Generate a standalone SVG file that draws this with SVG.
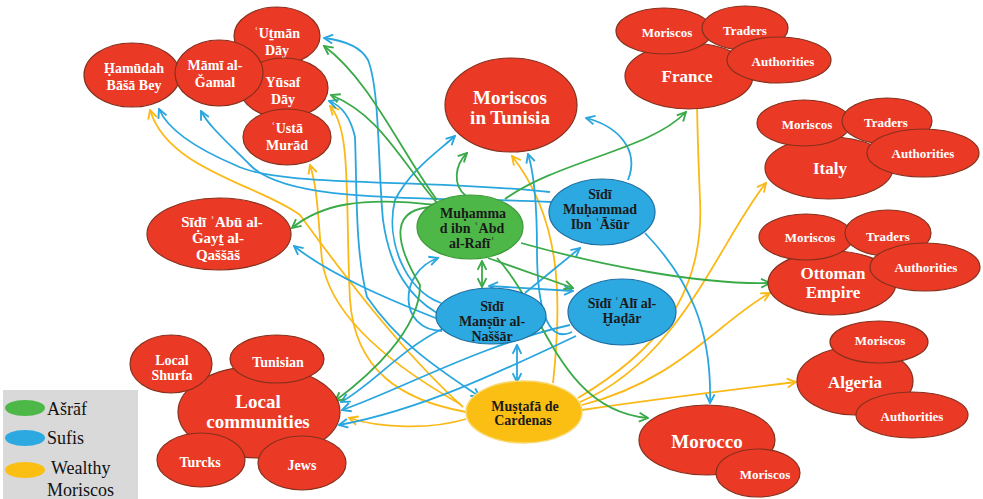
<svg xmlns="http://www.w3.org/2000/svg" width="983" height="499" viewBox="0 0 983 499">
<defs>
<marker id="ag" viewBox="0 0 10 10" refX="9" refY="5" markerWidth="11" markerHeight="11" markerUnits="userSpaceOnUse" orient="auto-start-reverse"><path d="M1,1 L9,5 L1,9" fill="none" stroke="#3AAA48" stroke-width="1.7"/></marker>
<marker id="ab" viewBox="0 0 10 10" refX="9" refY="5" markerWidth="11" markerHeight="11" markerUnits="userSpaceOnUse" orient="auto-start-reverse"><path d="M1,1 L9,5 L1,9" fill="none" stroke="#2AA6DF" stroke-width="1.7"/></marker>
<marker id="ay" viewBox="0 0 10 10" refX="9" refY="5" markerWidth="11" markerHeight="11" markerUnits="userSpaceOnUse" orient="auto-start-reverse"><path d="M1,1 L9,5 L1,9" fill="none" stroke="#FBB917" stroke-width="1.7"/></marker>
</defs>
<style>
.red{fill:#EA3A25;stroke:#86301E;stroke-width:1.2}
.blue{fill:#2DA9E1;stroke:#1F6FA3;stroke-width:1.2}
.green{fill:#4DB748;stroke:#3D9A3A;stroke-width:1.2}
.yel{fill:#FBBF14;stroke:#F8D870;stroke-width:1.5}
text{font-family:"Liberation Serif","Times New Roman",serif;font-weight:bold;text-anchor:middle}
.w{fill:#FFFFFF}
.d{fill:#1A1A1A}
.s13{font-size:13px}
.s14{font-size:14px}
.s15{font-size:15px}
.s17{font-size:17px}
.s19{font-size:19px}
.g{fill:none;stroke:#3AAA48;stroke-width:1.8;marker-end:url(#ag)}
.b{fill:none;stroke:#2AA6DF;stroke-width:1.8;marker-end:url(#ab)}
.y{fill:none;stroke:#FBB917;stroke-width:1.8;marker-end:url(#ay)}
.both{marker-start:url(#ag)}
.bothb{marker-start:url(#ab)}
text.leg{font-family:"Liberation Serif","Times New Roman",serif;font-weight:normal;font-size:18px;fill:#111;text-anchor:start}
</style>
<rect x="0" y="0" width="983" height="499" fill="#FFFFFF"/>

<g id="connectors">
<!-- yellow -->
<path class="y" d="M463,407 C 400,350 340,270 300,215 C 260,185 168,170 150,110"/>
<path class="y" d="M460,404 C 400,370 330,320 322,260 C 318,220 318,190 310,165"/>
<path class="y" d="M466,412 C 400,400 355,370 350,300 C 345,200 352,130 330,106"/>
<path class="y" d="M553,383 C 562,300 562,220 512,156"/>
<path class="y" d="M466,419 C 430,430 380,428 349,418"/>
<path class="y" d="M578,398 C 650,355 705,300 700,200 C 698,150 697,120 697,95"/>
<path class="y" d="M580,402 C 680,360 720,240 766,183"/>
<path class="y" d="M582,405 C 680,380 720,320 770,293"/>
<path class="y" d="M582,410 C 650,400 730,390 796,382"/>
<!-- blue -->
<path class="b" d="M437,313 C 410,297 390,270 383,220 C 378,170 380,90 368,60 C 360,45 340,40 324,38"/>
<path class="b bothb" d="M480,397 C 440,370 400,345 367,297 C 355,250 357,190 355,137 C 350,115 340,105 329,101"/>
<path class="b" d="M550,192 C 420,178 280,188 235,165 C 195,148 168,130 159,109"/>
<path class="b" d="M552,202 C 430,196 290,205 250,165 C 225,140 208,125 201,111"/>
<path class="b" d="M438,319 C 390,300 330,275 294,246"/>
<path class="b" d="M441,303 C 405,290 385,240 395,200 C 410,170 440,150 455,136"/>
<path class="b" d="M572,332 C 545,345 537,300 537,250 C 537,195 533,170 528,154"/>
<path class="b" d="M628,180 C 640,150 618,126 586,118"/>
<path class="b" d="M645,233 C 690,280 712,330 710,403"/>
<path class="b" d="M525,293 L 580,248"/>
<path class="b bothb" d="M489,286 L 573,291"/>
<path class="b bothb" d="M517,345 L 517,382"/>
<path class="b" d="M442,331 C 398,330 398,272 438,258"/>
<path class="b" d="M442,329 C 400,350 372,385 341,402"/>
<path class="b" d="M570,325 C 480,345 400,390 342,410"/>
<path class="b" d="M576,336 C 500,372 420,410 339,425"/>
<!-- green -->
<path class="g" d="M437,200 C 400,150 370,80 324,46"/>
<path class="g" d="M437,203 C 400,160 380,115 331,95"/>
<path class="g" d="M436,205 C 360,196 320,205 292,228"/>
<path class="g" d="M436,207 C 390,207 393,240 420,285 C 420,330 370,375 335,401"/>
<path class="g" d="M466,196 C 452,185 455,165 467,153"/>
<path class="g" d="M505,199 C 560,160 650,150 686,112"/>
<path class="g" d="M521,243 C 600,265 700,285 770,283"/>
<path class="g" d="M488,258 L 573,288"/>
<path class="g" d="M497,258 C 545,310 560,410 648,418"/>
<path class="g both" d="M482,261 L 482,287"/>
</g>

<g id="n-uthman"><ellipse class="red" cx="277" cy="36" rx="43" ry="29"/><text class="w s14" x="277" y="38">ʿUṯmān</text><text class="w s14" x="277" y="55">Dāy</text></g>
<g id="n-yusaf"><ellipse class="red" cx="284" cy="88" rx="44" ry="30"/><text class="w s14" x="283" y="87">Yūsaf</text><text class="w s14" x="283" y="104">Dāy</text></g>
<g id="n-hamudah"><ellipse class="red" cx="132" cy="75" rx="48" ry="32"/><text class="w s14" x="134" y="73">Ḥamūdah</text><text class="w s14" x="134" y="90">Bāšā Bey</text></g>
<g id="n-mami"><ellipse class="red" cx="219" cy="73" rx="44" ry="33"/><text class="w s14" x="215" y="70">Māmī al-</text><text class="w s14" x="215" y="87">Ǧamal</text></g>
<g id="n-usta"><ellipse class="red" cx="287" cy="137" rx="44" ry="28"/><text class="w s14" x="287" y="133">ʿUstā</text><text class="w s14" x="287" y="150">Murād</text></g>

<g id="n-tunisia"><ellipse class="red" cx="511" cy="105" rx="66" ry="47"/><text class="w s19" x="510" y="104">Moriscos</text><text class="w s19" x="510" y="124">in Tunisia</text></g>

<g id="n-france"><ellipse class="red" cx="689" cy="76" rx="64" ry="33"/><text class="w s17" x="687" y="82">France</text>
<ellipse class="red" cx="664" cy="31" rx="48" ry="23"/><text class="w s13" x="667" y="37">Moriscos</text>
<ellipse class="red" cx="745" cy="28" rx="43" ry="22"/><text class="w s13" x="745" y="35">Traders</text>
<ellipse class="red" cx="779" cy="60" rx="52" ry="23"/><text class="w s13" x="783" y="66">Authorities</text></g>

<g id="n-italy"><ellipse class="red" cx="829" cy="168" rx="64" ry="31"/><text class="w s17" x="830" y="174">Italy</text>
<ellipse class="red" cx="804" cy="123" rx="47" ry="23"/><text class="w s13" x="807" y="129">Moriscos</text>
<ellipse class="red" cx="887" cy="121" rx="45" ry="23"/><text class="w s13" x="886" y="127">Traders</text>
<ellipse class="red" cx="923" cy="153" rx="56" ry="24"/><text class="w s13" x="923" y="158">Authorities</text></g>

<g id="n-ottoman"><ellipse class="red" cx="832" cy="283" rx="64" ry="32"/><text class="w s17" x="833" y="279">Ottoman</text><text class="w s17" x="833" y="298">Empire</text>
<ellipse class="red" cx="806" cy="237" rx="47" ry="23"/><text class="w s13" x="810" y="242">Moriscos</text>
<ellipse class="red" cx="888" cy="233" rx="43" ry="23"/><text class="w s13" x="888" y="241">Traders</text>
<ellipse class="red" cx="925" cy="267" rx="55" ry="24"/><text class="w s13" x="926" y="272">Authorities</text></g>

<g id="n-algeria"><ellipse class="red" cx="855" cy="381" rx="58" ry="34"/><text class="w s17" x="855" y="388">Algeria</text>
<ellipse class="red" cx="879" cy="342" rx="49" ry="21"/><text class="w s13" x="880" y="345">Moriscos</text>
<ellipse class="red" cx="912" cy="415" rx="56" ry="23"/><text class="w s13" x="912" y="421">Authorities</text></g>

<g id="n-morocco"><ellipse class="red" cx="707" cy="440" rx="68" ry="35"/><text class="w s19" x="707" y="448">Morocco</text>
<ellipse class="red" cx="758" cy="473" rx="42" ry="24"/><text class="w s13" x="765" y="479">Moriscos</text></g>

<g id="n-local"><ellipse class="red" cx="259" cy="412" rx="81" ry="46"/><text class="w s19" x="258" y="408">Local</text><text class="w s19" x="258" y="428">communities</text>
<ellipse class="red" cx="171" cy="364" rx="41" ry="29"/><text class="w s14" x="172" y="365">Local</text><text class="w s14" x="172" y="380">Shurfa</text>
<ellipse class="red" cx="277" cy="359" rx="47" ry="24"/><text class="w s14" x="278" y="367">Tunisian</text>
<ellipse class="red" cx="201" cy="460" rx="44" ry="27"/><text class="w s14" x="200" y="467">Turcks</text>
<ellipse class="red" cx="302" cy="463" rx="44" ry="27"/><text class="w s14" x="302" y="470">Jews</text></g>

<g id="n-gayt"><ellipse class="red" cx="219" cy="234" rx="72" ry="36"/><text class="w s15" x="222" y="227">Sīdī ʾAbū al-</text><text class="w s15" x="218" y="243">Ġayṯ al-</text><text class="w s15" x="218" y="260">Qaššāš</text></g>

<g id="n-rafi"><ellipse class="green" cx="470" cy="227" rx="53" ry="32"/><text class="d s14" x="473" y="218">Muḥamma</text><text class="d s14" x="472" y="233">d ibn ʿAbd</text><text class="d s14" x="472" y="248">al-Rafīʿ</text></g>
<g id="n-asur"><ellipse class="blue" cx="602" cy="212" rx="53" ry="33"/><text class="d s14" x="600" y="199">Sīdī</text><text class="d s14" x="600" y="214">Muḥammad</text><text class="d s14" x="600" y="229">Ibn ʿĀšūr</text></g>
<g id="n-mansur"><ellipse class="blue" cx="491" cy="316" rx="55" ry="28"/><text class="d s14" x="492" y="311">Sīdī</text><text class="d s14" x="492" y="326">Manṣūr al-</text><text class="d s14" x="492" y="341">Naššār</text></g>
<g id="n-ali"><ellipse class="blue" cx="622" cy="312" rx="54" ry="33"/><text class="d s14" x="622" y="308">Sīdī ʿAlī al-</text><text class="d s14" x="622" y="323">Ḫaḍār</text></g>
<g id="n-mustafa"><ellipse class="yel" cx="524" cy="412" rx="58" ry="31"/><text class="d s14" x="525" y="411">Muṣṭafā de</text><text class="d s14" x="523" y="425">Cardenas</text></g>

<g id="legend"><rect x="3" y="390" width="135" height="109" fill="#D9D9D9"/>
<ellipse cx="25" cy="408" rx="20" ry="8" fill="#4DB748"/><text class="leg" x="47" y="415">Ašrāf</text>
<ellipse cx="25" cy="438" rx="20" ry="8" fill="#2DA9E1"/><text class="leg" x="47" y="444">Sufis</text>
<ellipse cx="25" cy="470" rx="20" ry="8" fill="#FBBF14"/><text class="leg" x="51" y="474">Wealthy</text><text class="leg" x="47" y="496">Moriscos</text></g>
</svg>
